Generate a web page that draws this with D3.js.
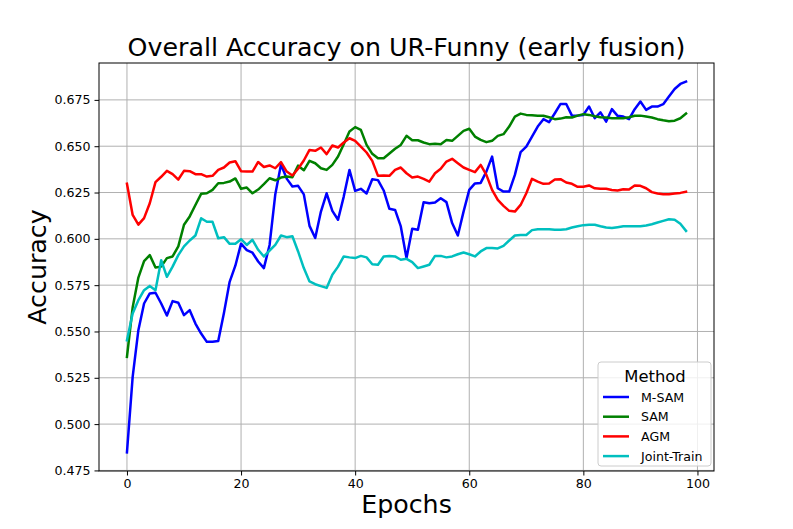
<!DOCTYPE html>
<html>
<head>
<meta charset="utf-8">
<script src="https://cdn.jsdelivr.net/npm/d3@7"></script>
<style>
  body { margin: 0; background: #fff; }
  svg text { font-family: "DejaVu Sans", sans-serif; }
</style>
</head>
<body>
<div id="chart"></div>
<script>
// accuracy per epoch
var mSam = [0.4847, 0.5255, 0.5507, 0.5651, 0.5705, 0.5709, 0.5651, 0.5586, 0.5664, 0.5655,
  0.5588, 0.5615, 0.5543, 0.5489, 0.5444, 0.5444, 0.5448, 0.5600, 0.5768, 0.5855,
  0.5974, 0.5939, 0.5925, 0.5878, 0.5842, 0.5967, 0.6240, 0.6401, 0.6325, 0.6283,
  0.6286, 0.6240, 0.6070, 0.6005, 0.6147, 0.6246, 0.6151, 0.6103, 0.6228, 0.6372,
  0.6259, 0.6270, 0.6245, 0.6322, 0.6317, 0.6261, 0.6162, 0.6156, 0.6067, 0.5896,
  0.6054, 0.6049, 0.6198, 0.6192, 0.6196, 0.6219, 0.6198, 0.6085, 0.6018, 0.6147,
  0.6264, 0.6299, 0.6302, 0.6363, 0.6444, 0.6273, 0.6255, 0.6255, 0.6345, 0.6468,
  0.6498, 0.6552, 0.6606, 0.6646, 0.6630, 0.6678, 0.6728, 0.6728, 0.6665, 0.6665,
  0.6669, 0.6714, 0.6651, 0.6683, 0.6633, 0.6700, 0.6664, 0.6660, 0.6646, 0.6700,
  0.6741, 0.6696, 0.6714, 0.6714, 0.6727, 0.6768, 0.6809, 0.6836, 0.6849];

var sam = [0.5363, 0.5630, 0.5791, 0.5880, 0.5912, 0.5845, 0.5850, 0.5896, 0.5905, 0.5959,
  0.6076, 0.6121, 0.6183, 0.6243, 0.6246, 0.6264, 0.6300, 0.6302, 0.6309, 0.6326,
  0.6270, 0.6277, 0.6246, 0.6266, 0.6295, 0.6327, 0.6316, 0.6331, 0.6336, 0.6333,
  0.6395, 0.6370, 0.6421, 0.6408, 0.6381, 0.6372, 0.6399, 0.6444, 0.6511, 0.6579,
  0.6603, 0.6588, 0.6507, 0.6459, 0.6435, 0.6435, 0.6461, 0.6486, 0.6507, 0.6556,
  0.6532, 0.6532, 0.6520, 0.6511, 0.6513, 0.6511, 0.6534, 0.6529, 0.6556, 0.6583,
  0.6594, 0.6552, 0.6534, 0.6522, 0.6529, 0.6556, 0.6565, 0.6606, 0.6660, 0.6676,
  0.6669, 0.6667, 0.6665, 0.6664, 0.6656, 0.6646, 0.6649, 0.6656, 0.6655, 0.6665,
  0.6673, 0.6669, 0.6662, 0.6656, 0.6655, 0.6651, 0.6651, 0.6651, 0.6656, 0.6664,
  0.6665, 0.6660, 0.6655, 0.6646, 0.6640, 0.6635, 0.6638, 0.6651, 0.6676];

var agm = [0.6297, 0.6129, 0.6077, 0.6112, 0.6192, 0.6306, 0.6335, 0.6367, 0.6349, 0.6320,
  0.6367, 0.6365, 0.6349, 0.6349, 0.6336, 0.6340, 0.6372, 0.6385, 0.6412, 0.6419,
  0.6365, 0.6363, 0.6363, 0.6415, 0.6388, 0.6396, 0.6381, 0.6414, 0.6363, 0.6342,
  0.6378, 0.6423, 0.6480, 0.6475, 0.6493, 0.6457, 0.6504, 0.6493, 0.6520, 0.6543,
  0.6529, 0.6498, 0.6466, 0.6421, 0.6340, 0.6342, 0.6340, 0.6372, 0.6385, 0.6354,
  0.6331, 0.6336, 0.6324, 0.6309, 0.6354, 0.6378, 0.6417, 0.6432, 0.6408, 0.6385,
  0.6372, 0.6360, 0.6399, 0.6345, 0.6264, 0.6210, 0.6178, 0.6151, 0.6147, 0.6183,
  0.6246, 0.6324, 0.6309, 0.6297, 0.6299, 0.6320, 0.6322, 0.6304, 0.6297, 0.6281,
  0.6281, 0.6288, 0.6273, 0.6270, 0.6270, 0.6264, 0.6261, 0.6268, 0.6266, 0.6288,
  0.6286, 0.6273, 0.6252, 0.6245, 0.6241, 0.6241, 0.6245, 0.6248, 0.6254];

var jointTrain = [0.5453, 0.5597, 0.5669, 0.5723, 0.5746, 0.5723, 0.5885, 0.5795, 0.5850, 0.5912,
  0.5959, 0.5991, 0.6018, 0.6111, 0.6092, 0.6092, 0.6003, 0.6009, 0.5973, 0.5973,
  0.5998, 0.5967, 0.5995, 0.5941, 0.5905, 0.5937, 0.5967, 0.6018, 0.6009, 0.6014,
  0.5932, 0.5842, 0.5770, 0.5755, 0.5745, 0.5735, 0.5806, 0.5850, 0.5905, 0.5900,
  0.5896, 0.5908, 0.5900, 0.5863, 0.5860, 0.5905, 0.5908, 0.5905, 0.5887, 0.5892,
  0.5874, 0.5842, 0.5851, 0.5860, 0.5908, 0.5908, 0.5900, 0.5905, 0.5917, 0.5926,
  0.5917, 0.5905, 0.5932, 0.5950, 0.5950, 0.5948, 0.5962, 0.5991, 0.6018, 0.6021,
  0.6021, 0.6047, 0.6052, 0.6052, 0.6052, 0.6049, 0.6049, 0.6052, 0.6061, 0.6068,
  0.6074, 0.6076, 0.6076, 0.6068, 0.6061, 0.6058, 0.6063, 0.6068, 0.6068, 0.6068,
  0.6068, 0.6072, 0.6079, 0.6088, 0.6097, 0.6106, 0.6103, 0.6081, 0.6043];

var methods = ["M-SAM", "SAM", "AGM", "Joint-Train"];
var seriesValues = [mSam, sam, agm, jointTrain];
var colors = ["#0000ff", "#008000", "#ff0000", "#00bfbf"];
var xTicks = [0, 20, 40, 60, 80, 100];
var yTicks = [0.475, 0.5, 0.525, 0.55, 0.575, 0.6, 0.625, 0.65, 0.675];

var width = 793, height = 529;
var margin = {top: 63, right: 79, bottom: 58, left: 99};

var svg = d3.select("#chart").append("svg")
  .attr("width", width)
  .attr("height", height);

// matplotlib style 5% margins around the data
var nEpochs = mSam.length;
var allVals = seriesValues.flat();
var yMin = d3.min(allVals), yMax = d3.max(allVals);
var xPad = (nEpochs - 1) * 0.05, yPad = (yMax - yMin) * 0.05;

var x = d3.scaleLinear()
  .domain([-xPad, nEpochs - 1 + xPad])
  .range([margin.left, width - margin.right]);
var y = d3.scaleLinear()
  .domain([yMin - yPad, yMax + yPad])
  .range([height - margin.bottom, margin.top]);

// grid
var grid = svg.append("g").attr("class", "grid");
grid.selectAll(".gx").data(xTicks).join("line")
  .attr("x1", d => x(d)).attr("x2", d => x(d))
  .attr("y1", margin.top).attr("y2", height - margin.bottom)
  .attr("stroke", "#b0b0b0").attr("stroke-width", 1);
grid.selectAll(".gy").data(yTicks).join("line")
  .attr("x1", margin.left).attr("x2", width - margin.right)
  .attr("y1", d => y(d)).attr("y2", d => y(d))
  .attr("stroke", "#b0b0b0").attr("stroke-width", 1);

// lines
var line = d3.line()
  .x((d, i) => x(i))
  .y(d => y(d));

svg.append("g").attr("class", "series")
  .selectAll("path")
  .data(seriesValues)
  .join("path")
    .attr("d", line)
    .attr("fill", "none")
    .attr("stroke", (d, i) => colors[i])
    .attr("stroke-width", 2.5)
    .attr("stroke-linejoin", "round")
    .attr("stroke-linecap", "square");

// axes
var xAxis = svg.append("g")
  .attr("transform", `translate(0,${height - margin.bottom})`)
  .call(d3.axisBottom(x).tickValues(xTicks).tickSize(4.5).tickPadding(4).tickFormat(d3.format("d")));
var yAxis = svg.append("g")
  .attr("transform", `translate(${margin.left},0)`)
  .call(d3.axisLeft(y).tickValues(yTicks).tickSize(4.5).tickPadding(4).tickFormat(d3.format(".3f")));

[xAxis, yAxis].forEach(a => {
  a.select(".domain").remove();
  a.selectAll("text").attr("font-family", "DejaVu Sans").attr("font-size", 12.6).attr("fill", "#000");
  a.selectAll("line").attr("stroke", "#000").attr("stroke-width", 1);
});

// frame
svg.append("rect")
  .attr("x", margin.left).attr("y", margin.top)
  .attr("width", width - margin.left - margin.right)
  .attr("height", height - margin.top - margin.bottom)
  .attr("fill", "none").attr("stroke", "#000").attr("stroke-width", 1);

// title & labels
svg.append("text")
  .attr("x", (margin.left + width - margin.right) / 2)
  .attr("y", 56)
  .attr("text-anchor", "middle")
  .attr("font-size", 25.3)
  .text("Overall Accuracy on UR-Funny (early fusion)");

svg.append("text")
  .attr("x", (margin.left + width - margin.right) / 2)
  .attr("y", 513)
  .attr("text-anchor", "middle")
  .attr("font-size", 25.3)
  .text("Epochs");

svg.append("text")
  .attr("transform", `translate(46,${(margin.top + height - margin.bottom) / 2}) rotate(-90)`)
  .attr("text-anchor", "middle")
  .attr("font-size", 25.3)
  .text("Accuracy");

// legend
var legend = svg.append("g").attr("transform", "translate(598,362)");
legend.append("rect")
  .attr("width", 113).attr("height", 104)
  .attr("rx", 3)
  .attr("fill", "#fff").attr("fill-opacity", 0.8)
  .attr("stroke", "#cccccc").attr("stroke-width", 1);
legend.append("text")
  .attr("x", 57).attr("y", 20)
  .attr("text-anchor", "middle")
  .attr("font-size", 16.4)
  .text("Method");

var items = legend.selectAll(".item")
  .data(methods)
  .join("g").attr("class", "item")
  .attr("transform", (d, i) => `translate(0,${35 + i * 19.7})`);
items.append("line")
  .attr("x1", 5).attr("x2", 31)
  .attr("stroke", (d, i) => colors[i])
  .attr("stroke-width", 2.5);
items.append("text")
  .attr("x", 43).attr("y", 4.5)
  .attr("font-size", 12.6)
  .text(d => d);
</script>
</body>
</html>
